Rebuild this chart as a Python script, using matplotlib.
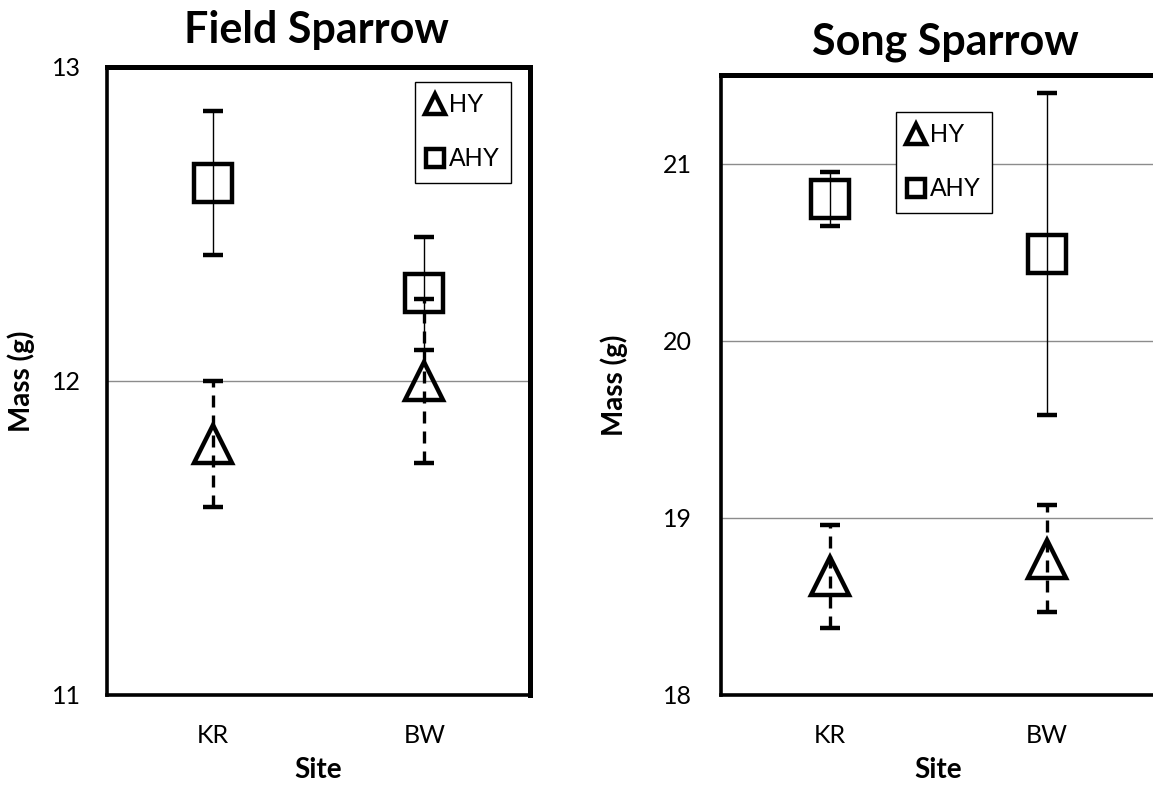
import numpy as np
import matplotlib
matplotlib.use("Agg")
from matplotlib import pyplot as plt
from matplotlib.lines import Line2D

# site means and error bars
sites = ["KR", "BW"]

field_hy = [11.80, 12.00]
field_hy_err = [0.20, 0.26]
field_ahy = [12.63, 12.28]
field_ahy_err = [0.23, 0.18]

song_hy = [18.67, 18.77]
song_hy_err = [0.29, 0.30]
song_ahy = [20.80, 20.49]
song_ahy_err = [0.15, 0.91]

field_ticks = [11, 12, 13]
song_ticks = [18, 19, 20, 21]

MAIN_FONT = "Lato"
LEGEND_FONT = "Liberation Sans"

W, H = 1153, 786


def px_box(x0, y0, x1, y1):
    # pixel box (top-left origin) -> figure fraction rect
    return [x0 / W, 1 - y1 / H, (x1 - x0) / W, (y1 - y0) / H]


def draw_panel(ax, hy, hy_err, ahy, ahy_err, ylim, yticks, legend_anchor,
               ytick_pad, ylabel_x, right_spine=True):
    x = np.arange(len(sites))

    ax.errorbar(x, ahy, yerr=ahy_err, fmt="s", ms=28, mfc="none", mec="black",
                mew=3.2, ecolor="black", elinewidth=1.0, capsize=7,
                capthick=1.0, zorder=3)
    hy_plot = ax.errorbar(x, hy, yerr=hy_err, fmt="^", ms=28, mfc="none",
                          mec="black", mew=3.2, ecolor="black", elinewidth=2.4,
                          capsize=7, capthick=2.6, zorder=4)
    hy_plot[2][0].set_linestyle((0, (3.6, 2.4)))

    ax.set_xlim(-0.5, 1.5)
    ax.set_ylim(*ylim)
    ax.set_xticks(x)
    ax.set_xticklabels(sites, fontsize=18, family=MAIN_FONT)
    ax.set_yticks(yticks)
    ax.set_yticklabels([str(t) for t in yticks], fontsize=18, family=MAIN_FONT)
    ax.tick_params(axis="y", length=0, pad=ytick_pad)
    ax.tick_params(axis="x", length=0, pad=21)

    ax.yaxis.grid(True, color="#8c8c8c", lw=1.0)
    ax.set_axisbelow(True)

    ax.set_xlabel("Site", fontsize=20, family=MAIN_FONT, fontweight="bold",
                  labelpad=7)
    ax.set_ylabel("Mass (g)", fontsize=20, family=MAIN_FONT, fontweight="bold")
    ax.yaxis.set_label_coords(ylabel_x, 0.5)

    ax.spines["top"].set_linewidth(3.6)
    ax.spines["right"].set_linewidth(3.6)
    ax.spines["left"].set_linewidth(2.6)
    ax.spines["bottom"].set_linewidth(2.6)
    if not right_spine:
        ax.spines["right"].set_visible(False)

    handles = [
        Line2D([], [], marker="^", ls="none", ms=14, mfc="none", mec="black", mew=3.2),
        Line2D([], [], marker="s", ls="none", ms=13, mfc="none", mec="black", mew=3.2),
    ]
    leg = ax.legend(handles, ["HY", "AHY"], loc="upper left",
                    bbox_to_anchor=legend_anchor, borderaxespad=0,
                    prop={"family": LEGEND_FONT, "size": 18},
                    fancybox=False, framealpha=1, edgecolor="black",
                    handlelength=0.7, handletextpad=0.2, labelspacing=1.2,
                    borderpad=0.45)
    leg.get_frame().set_linewidth(1.0)


fig = plt.figure(figsize=(W / 100, H / 100), dpi=100)

ax1 = fig.add_axes(px_box(107, 67, 530, 695))
draw_panel(ax1, field_hy, field_hy_err, field_ahy, field_ahy_err,
           (11, 13), field_ticks, (0.728, 0.976), 19, -0.17)

ax2 = fig.add_axes(px_box(721, 75, 1155, 695))
draw_panel(ax2, song_hy, song_hy_err, song_ahy, song_ahy_err,
           (18, 21.5), song_ticks, (0.403, 0.94), 21, -0.214,
           right_spine=False)

fig.text(316 / W, 1 - 30 / H, "Field Sparrow", fontsize=31, family=MAIN_FONT,
         fontweight="bold", ha="center", va="center")
fig.text(945 / W, 1 - 42 / H, "Song Sparrow", fontsize=31, family=MAIN_FONT,
         fontweight="bold", ha="center", va="center")

fig.savefig("out.png", dpi=100)
